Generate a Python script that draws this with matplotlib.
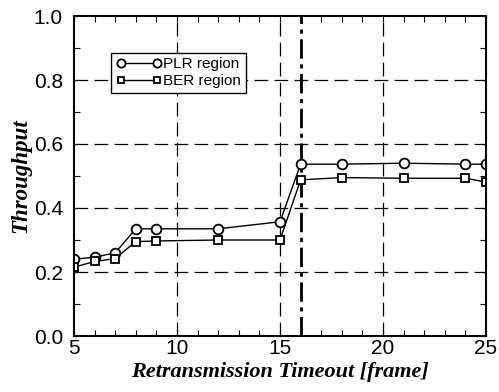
import matplotlib
matplotlib.use("Agg")
import matplotlib.pyplot as plt
import numpy as np
from matplotlib.ticker import MultipleLocator

timeout = [5, 6, 7, 8, 9, 12, 15, 16, 18, 21, 24, 25]
plr_thr = [0.240, 0.246, 0.260, 0.335, 0.335, 0.335, 0.357, 0.537, 0.537, 0.540, 0.537, 0.537]
ber_thr = [0.215, 0.233, 0.242, 0.295, 0.297, 0.300, 0.300, 0.488, 0.495, 0.493, 0.493, 0.481]
opt_timeout = 16

fig = plt.figure(figsize=(4.99, 3.92), dpi=100)
ax = fig.add_axes([74 / 499, 1 - 336 / 392, 412 / 499, 320 / 392])

ax.plot(timeout, plr_thr, color="black", lw=1.0, marker="o", ms=7,
        mfc="white", mec="black", mew=1.3, label="PLR region")
ax.plot(timeout, ber_thr, color="black", lw=1.0, marker="s", ms=5.5,
        mfc="white", mec="black", mew=1.3, label="BER region")

for xv in [10, 15, 20]:
    ax.axvline(xv, color="black", lw=0.9, ls=(0, (11, 5)), zorder=0)
for yv in [0.2, 0.4, 0.6, 0.8]:
    ax.axhline(yv, color="black", lw=0.9, ls=(0, (11, 5)), zorder=0)
ax.axvline(opt_timeout, color="black", lw=2.0, ls=(0, (7, 2, 1.5, 2)), zorder=1)

ax.set_xlim(5, 25)
ax.set_ylim(0, 1.0)
ax.set_xticks([5, 10, 15, 20, 25])
ax.set_yticks(np.arange(0, 1.01, 0.2))
ax.set_yticklabels(["0.0", "0.2", "0.4", "0.6", "0.8", "1.0"])
ax.xaxis.set_minor_locator(MultipleLocator(1))
ax.yaxis.set_minor_locator(MultipleLocator(0.1))
ax.tick_params(which="both", direction="in", top=True, right=True,
               length=4, width=0.8)
ax.tick_params(axis="y", pad=8)
ax.tick_params(axis="x", pad=2)
ax.tick_params(labelsize=15)
for lab in ax.get_xticklabels() + ax.get_yticklabels():
    lab.set_family("Liberation Sans")
for s in ax.spines.values():
    s.set_linewidth(1.5)

ax.set_xlabel("Retransmission Timeout [frame]", family="Liberation Serif",
              style="italic", weight="bold", fontsize=16, labelpad=3)
ax.set_ylabel("Throughput", family="Liberation Serif",
              style="italic", weight="bold", fontsize=16.5, labelpad=2)

leg = ax.legend(loc="upper left", bbox_to_anchor=(0.091, 0.885),
                prop={"family": "Liberation Sans", "size": 11},
                frameon=True, fancybox=False, edgecolor="black",
                borderpad=0.3, handlelength=3.0, handletextpad=0.1,
                labelspacing=0.2, borderaxespad=0, numpoints=2,
                markerscale=0.85)
leg.get_frame().set_linewidth(1.0)
leg.get_frame().set_alpha(1)

fig.savefig("out.png", dpi=100)
